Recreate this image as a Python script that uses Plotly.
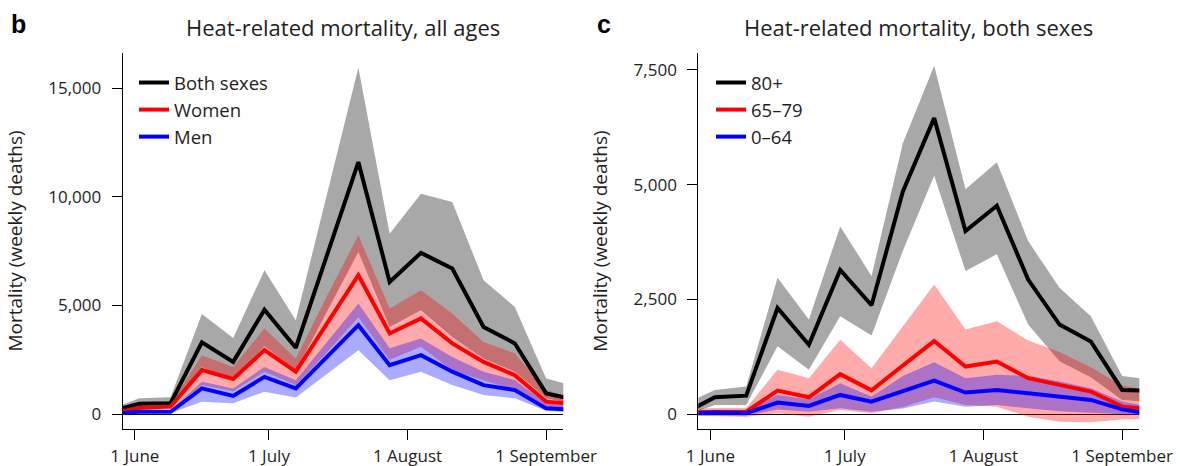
import plotly.graph_objects as go

# ---------------- data (weekly) ----------------
dates = ["2022-05-29", "2022-06-02", "2022-06-09", "2022-06-16", "2022-06-23",
         "2022-06-30", "2022-07-07", "2022-07-14", "2022-07-21", "2022-07-28",
         "2022-08-04", "2022-08-11", "2022-08-18", "2022-08-25", "2022-09-01",
         "2022-09-05"]

# panel b: all ages, by sex
both = [260, 470, 500, 3300, 2400, 4800, 3050, 7300, 11600, 6080, 7420, 6700, 4010, 3250, 950, 770]
both_hi = [410, 720, 770, 4600, 3500, 6620, 4320, 10100, 15950, 8300, 10140, 9760, 6160, 4930, 1640, 1410]
both_lo = [150, 300, 320, 2150, 1560, 3120, 1980, 4750, 7460, 4010, 4780, 3550, 2560, 1950, 720, 550]

women = [105, 290, 340, 2020, 1610, 2940, 1950, 4140, 6390, 3710, 4400, 3250, 2400, 1790, 570, 490]
women_hi = [150, 400, 450, 2710, 2170, 3940, 2560, 5440, 8230, 4860, 5700, 4630, 3320, 2790, 1100, 850]
women_lo = [60, 180, 230, 1330, 1050, 1940, 1340, 2840, 4450, 2500, 3100, 2000, 1550, 1100, 250, 200]

men = [45, 105, 105, 1180, 830, 1710, 1180, 2630, 4090, 2250, 2710, 1950, 1330, 1100, 260, 215]
men_hi = [80, 180, 190, 1490, 1180, 2170, 1560, 3300, 5090, 3030, 3480, 2630, 1950, 1560, 490, 400]
men_lo = [20, 40, 45, 570, 490, 1030, 760, 1870, 2940, 1560, 1950, 1330, 870, 720, 150, 100]

# panel c: both sexes, by age group
age80 = [160, 365, 400, 2310, 1510, 3140, 2370, 4850, 6450, 3990, 4540, 2930, 1950, 1580, 525, 510]
age80_hi = [343, 525, 600, 2970, 2060, 4090, 3010, 5900, 7590, 4900, 5490, 3770, 2750, 2130, 830, 780]
age80_lo = [60, 197, 197, 1475, 963, 2130, 1710, 3560, 5195, 3115, 3480, 1950, 1150, 800, 306, 280]

age65 = [40, 50, 50, 510, 365, 869, 515, 1057, 1590, 1035, 1145, 780, 635, 489, 160, 124]
age65_hi = [120, 130, 130, 963, 780, 1620, 1000, 1910, 2825, 1840, 2020, 1600, 1350, 1020, 620, 550]
age65_lo = [-40, -40, -60, 15, -60, 88, 15, 150, 365, 197, 160, -60, -170, -180, -120, -110]

age0 = [20, 30, 20, 250, 175, 416, 270, 503, 730, 467, 525, 453, 380, 306, 100, 40]
age0_hi = [80, 90, 90, 416, 322, 672, 380, 830, 1130, 780, 854, 832, 708, 562, 270, 200]
age0_lo = [-40, -30, -40, 100, 50, 125, 50, 120, 270, 160, 197, 125, 60, 40, 0, -20]

x_tickvals = ["2022-06-01", "2022-07-01", "2022-08-01", "2022-09-01"]
x_ticktext = ["1 June", "1 July", "1 August", "1 September"]
y_ticks_b = [0, 5000, 10000, 15000]
y_ticks_c = [0, 2500, 5000, 7500]

# ---------------- figure ----------------
FONT = "Open Sans"
TXT = "#1e1e1e"
GREY_BAND = "rgba(0,0,0,0.34)"
RED_BAND = "rgba(255,0,0,0.33)"
BLUE_BAND = "rgba(0,0,255,0.33)"

fig = go.Figure()


def add_band(lo, hi, color, xa, ya):
    fig.add_trace(go.Scatter(
        x=dates + dates[::-1], y=hi + lo[::-1], mode="lines",
        fill="toself", fillcolor=color, line=dict(width=0),
        hoverinfo="skip", showlegend=False, xaxis=xa, yaxis=ya))


def add_line(y, color, name, xa, ya, leg):
    fig.add_trace(go.Scatter(
        x=dates, y=y, mode="lines", name=name,
        line=dict(color=color, width=4),
        legend=leg, legendgroup=name, xaxis=xa, yaxis=ya))


# panel b
add_band(both_lo, both_hi, GREY_BAND, "x", "y")
add_band(women_lo, women_hi, RED_BAND, "x", "y")
add_band(men_lo, men_hi, BLUE_BAND, "x", "y")
add_line(both, "#000000", "Both sexes", "x", "y", "legend")
add_line(women, "#ff0000", "Women", "x", "y", "legend")
add_line(men, "#0000ff", "Men", "x", "y", "legend")

# panel c
add_band(age80_lo, age80_hi, GREY_BAND, "x2", "y2")
add_band(age65_lo, age65_hi, RED_BAND, "x2", "y2")
add_band(age0_lo, age0_hi, BLUE_BAND, "x2", "y2")
add_line(age80, "#000000", "80+", "x2", "y2", "legend2")
add_line(age65, "#ff0000", "65\u201379", "x2", "y2", "legend2")
add_line(age0, "#0000ff", "0\u201364", "x2", "y2", "legend2")

W, H = 1180, 466
MT, MB = 53, 37
PH = H - MT - MB


def px(xp):
    return xp / W


def py(yp):
    return (H - MB - yp) / PH


xcommon = dict(
    type="date", range=["2022-05-29 07:00", "2022-09-04 20:00"],
    tickvals=x_tickvals, ticktext=x_ticktext,
    showline=True, linecolor="black", linewidth=1,
    ticks="outside", ticklen=10, tickwidth=1, tickcolor="black",
    showgrid=False, zeroline=False, automargin=False,
    tickfont=dict(family=FONT, size=17, color=TXT),
    ticklabelstandoff=2,
)
ycommon = dict(
    showline=True, linecolor="black", linewidth=1,
    ticks="outside", ticklen=10, tickwidth=1, tickcolor="black",
    showgrid=False, zeroline=True, zerolinecolor="black", zerolinewidth=1,
    automargin=False, tickformat=",",
    tickfont=dict(family=FONT, size=17, color=TXT),
    ticklabelstandoff=7,
    title=dict(text="Mortality (weekly deaths)", standoff=20,
               font=dict(family=FONT, size=19, color=TXT)),
)

fig.update_layout(
    width=W, height=H, template="none",
    paper_bgcolor="white", plot_bgcolor="white",
    margin=dict(l=0, r=0, t=MT, b=MB),
    showlegend=True,
    xaxis=dict(domain=[px(122.7), px(563.3)], anchor="y", **xcommon),
    xaxis2=dict(domain=[px(698.3), px(1139.3)], anchor="y2", **xcommon),
    yaxis=dict(domain=[0, 1], anchor="x", range=[-690, 16620], tickvals=y_ticks_b, **ycommon),
    yaxis2=dict(domain=[0, 1], anchor="x2", range=[-327, 7870], tickvals=y_ticks_c, **ycommon),
    legend=dict(x=px(134), y=py(64), xanchor="left", yanchor="top",
                bgcolor="rgba(0,0,0,0)", tracegroupgap=0,
                font=dict(family=FONT, size=18.5, color=TXT)),
    legend2=dict(x=px(711), y=py(64), xanchor="left", yanchor="top",
                 bgcolor="rgba(0,0,0,0)", tracegroupgap=0,
                 font=dict(family=FONT, size=18.5, color=TXT)),
    annotations=[
        dict(text="<b>b</b>", x=px(9), y=py(24), xref="paper", yref="paper",
             xanchor="left", yanchor="middle", showarrow=False,
             font=dict(family="Liberation Sans", size=25, color="black")),
        dict(text="<b>c</b>", x=px(595), y=py(24), xref="paper", yref="paper",
             xanchor="left", yanchor="middle", showarrow=False,
             font=dict(family="Liberation Sans", size=25, color="black")),
        dict(text="Heat-related mortality, all ages", x=px(343), y=py(27),
             xref="paper", yref="paper", xanchor="center", yanchor="middle",
             showarrow=False, font=dict(family=FONT, size=22, color=TXT)),
        dict(text="Heat-related mortality, both sexes", x=px(918.8), y=py(27),
             xref="paper", yref="paper", xanchor="center", yanchor="middle",
             showarrow=False, font=dict(family=FONT, size=22, color=TXT)),
    ],
)

fig.write_html("out.html", config={"displayModeBar": False},
               post_script="document.body.style.margin='0px';")
